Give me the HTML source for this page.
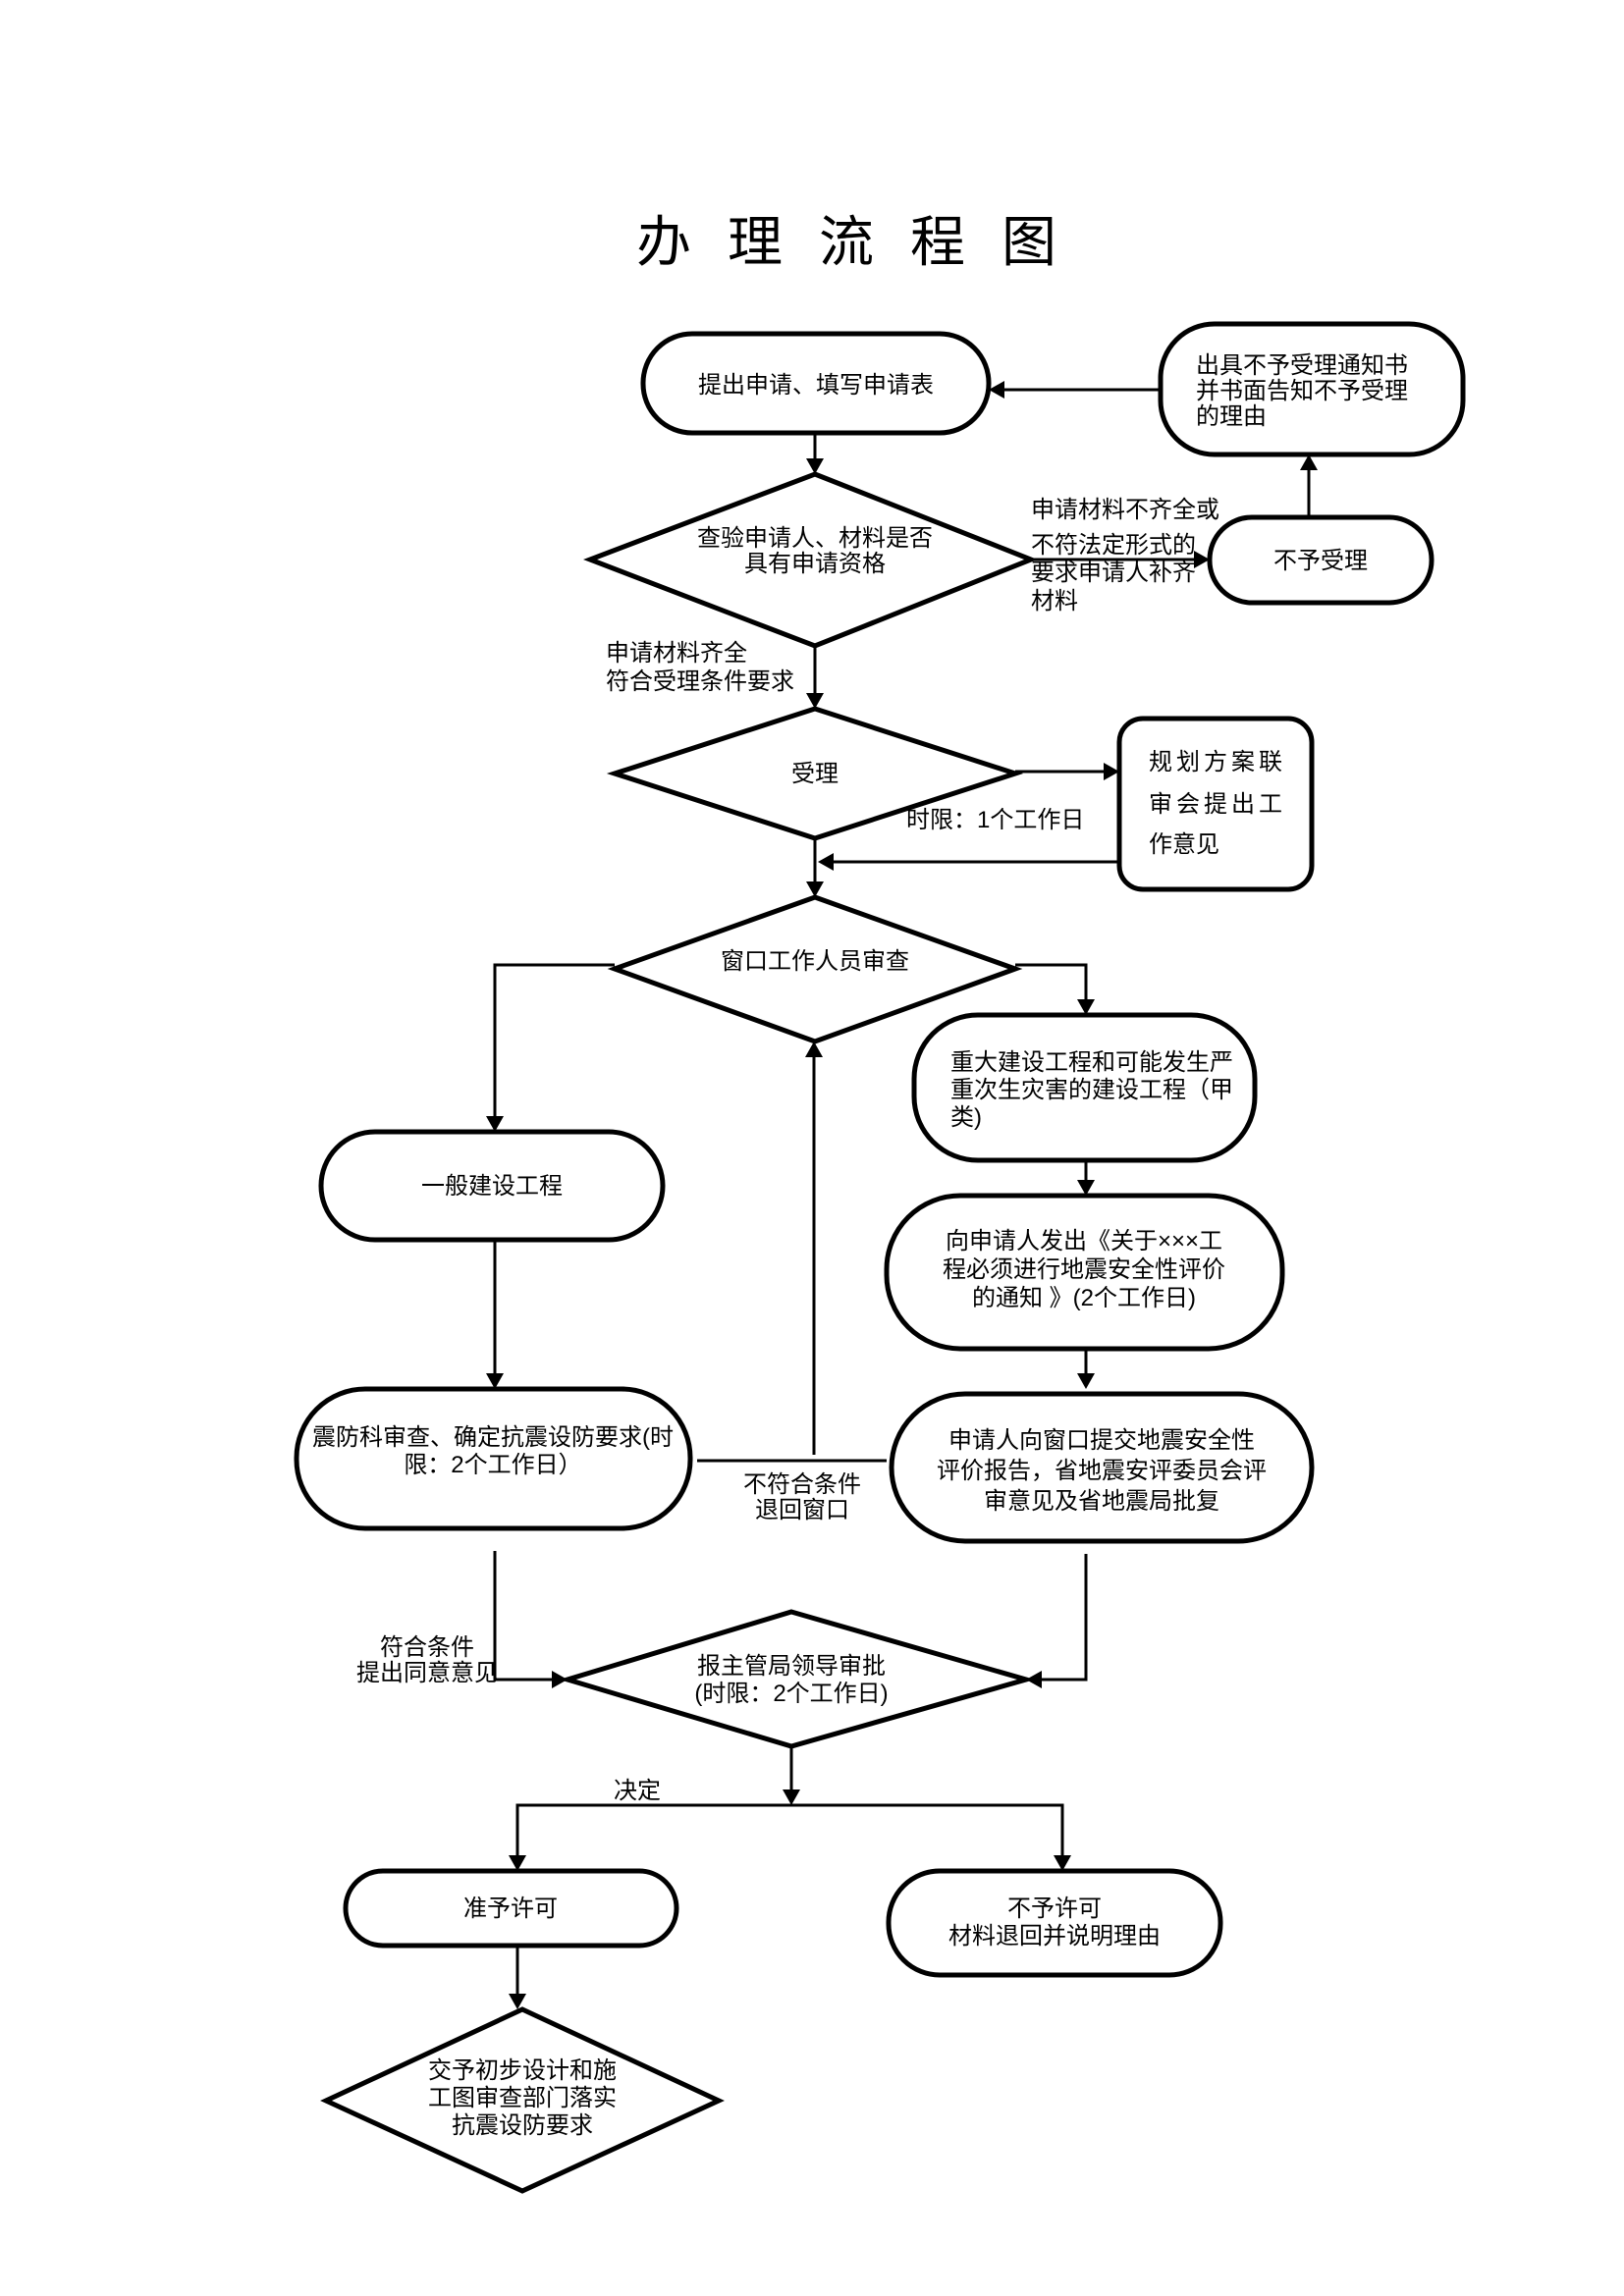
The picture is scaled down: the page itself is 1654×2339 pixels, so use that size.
<!DOCTYPE html>
<html><head><meta charset="utf-8"><style>
html,body{margin:0;padding:0;background:#fff;}
svg{display:block;}
text{font-family:"Liberation Sans","Noto Sans CJK SC",sans-serif;fill:#000;}
</style></head><body>
<svg width="1654" height="2339" viewBox="0 0 1654 2339" xmlns="http://www.w3.org/2000/svg">
<style>
.s{fill:none;stroke:#000;stroke-width:5}
.l{fill:none;stroke:#000;stroke-width:3}
.t{font-size:24px}
.c{text-anchor:middle}
</style>
<text x="648" y="266" font-size="56" letter-spacing="37">办理流程图</text>

<rect x="655" y="340" width="352" height="101" rx="50" class="s"/>
<text x="831" y="400" class="t c">提出申请、填写申请表</text>
<rect x="1182" y="330" width="308" height="133" rx="55" class="s"/>
<text x="1218" y="380" class="t">出具不予受理通知书</text>
<text x="1218" y="406" class="t">并书面告知不予受理</text>
<text x="1218" y="432" class="t">的理由</text>
<path d="M1182,397 L1012,397" class="l"/><path d="M1007,397 l16,-9 v18 z"/>
<polygon points="830,483 1050,570 830,658 601,570" class="s"/>
<text x="830" y="556" class="t c">查验申请人、材料是否</text>
<text x="830" y="582" class="t c">具有申请资格</text>
<path d="M830,441 V478" class="l"/><path d="M830,483 l-9,-16 h18 z"/>
<rect x="1232" y="527" width="226" height="87" rx="43" class="s"/>
<text x="1345" y="579" class="t c">不予受理</text>
<path d="M1050,570 H1226" class="l"/><path d="M1232,570 l-16,-9 v18 z"/>
<path d="M1333,527 V468" class="l"/><path d="M1333,463 l-9,16 h18 z"/>
<text x="1050" y="527" class="t">申请材料不齐全或</text>
<text x="1050" y="563" class="t">不符法定形式的</text>
<text x="1050" y="591" class="t">要求申请人补齐</text>
<text x="1050" y="620" class="t">材料</text>
<text x="617" y="673" class="t">申请材料齐全</text>
<text x="617" y="702" class="t">符合受理条件要求</text>
<path d="M830,658 V717" class="l"/><path d="M830,722 l-9,-16 h18 z"/>
<polygon points="830,722 1034,788 830,854 626,788" class="s"/>
<text x="830" y="796" class="t c">受理</text>
<path d="M1034,786 H1134" class="l"/><path d="M1140,786 l-16,-9 v18 z"/>
<rect x="1140" y="732" width="196" height="174" rx="24" class="s" stroke-width="4"/>
<text x="1170" y="784" class="t" letter-spacing="4">规划方案联</text>
<text x="1170" y="827" class="t" letter-spacing="4">审会提出工</text>
<text x="1170" y="868" class="t">作意见</text>
<text x="923" y="843" class="t">时限：1个工作日</text>
<path d="M1140,878 H838" class="l"/><path d="M833,878 l16,-9 v18 z"/>
<path d="M830,854 V909" class="l"/><path d="M830,914 l-9,-16 h18 z"/>
<polygon points="830,914 1034,987 830,1061 626,987" class="s"/>
<text x="830" y="987" class="t c">窗口工作人员审查</text>
<path d="M626,983 H504 V1148" class="l"/><path d="M504,1153 l-9,-16 h18 z"/>
<path d="M1034,983 H1106 V1029" class="l"/><path d="M1106,1034 l-9,-16 h18 z"/>
<rect x="327" y="1153" width="348" height="110" rx="55" class="s"/>
<text x="501" y="1216" class="t c">一般建设工程</text>
<path d="M504,1263 V1410" class="l"/><path d="M504,1415 l-9,-16 h18 z"/>
<rect x="302" y="1415" width="401" height="142" rx="70" class="s"/>
<text x="502" y="1472" class="t c">震防科审查、确定抗震设防要求(时</text>
<text x="502" y="1500" class="t c">限：2个工作日）</text>
<rect x="931" y="1034" width="347" height="148" rx="65" class="s"/>
<text x="968" y="1090" class="t">重大建设工程和可能发生严</text>
<text x="968" y="1118" class="t">重次生灾害的建设工程（甲</text>
<text x="968" y="1146" class="t">类)</text>
<path d="M1106,1182 V1213" class="l"/><path d="M1106,1218 l-9,-16 h18 z"/>
<rect x="903" y="1218" width="403" height="156" rx="75" class="s"/>
<text x="1104" y="1272" class="t c">向申请人发出《关于×××工</text>
<text x="1104" y="1301" class="t c">程必须进行地震安全性评价</text>
<text x="1104" y="1330" class="t c">的通知 》(2个工作日)</text>
<path d="M1106,1374 V1410" class="l"/><path d="M1106,1415 l-9,-16 h18 z"/>
<rect x="908" y="1420" width="428" height="150" rx="75" class="s"/>
<text x="1122" y="1475" class="t c">申请人向窗口提交地震安全性</text>
<text x="1122" y="1506" class="t c">评价报告，省地震安评委员会评</text>
<text x="1122" y="1537" class="t c">审意见及省地震局批复</text>
<path d="M710,1488 H903" class="l"/>
<path d="M829,1482 V1066" class="l"/><path d="M829,1061 l-9,16 h18 z"/>
<text x="817" y="1520" class="t c">不符合条件</text>
<text x="817" y="1546" class="t c">退回窗口</text>
<path d="M504,1580 V1711 H572" class="l"/><path d="M578,1711 l-16,-9 v18 z"/>
<path d="M1106,1583 V1711 H1050" class="l"/><path d="M1045,1711 l16,-9 v18 z"/>
<text x="435" y="1686" class="t c">符合条件</text>
<text x="435" y="1712" class="t c">提出同意意见</text>
<polygon points="806,1642 1045,1711 806,1779 578,1711" class="s"/>
<text x="806" y="1705" class="t c">报主管局领导审批</text>
<text x="806" y="1733" class="t c">(时限：2个工作日)</text>
<path d="M806,1779 V1834" class="l"/><path d="M806,1839 l-9,-16 h18 z"/>
<text x="649" y="1832" class="t c">决定</text>
<path d="M527,1901 V1839 H1082 V1901" class="l"/>
<path d="M527,1906 l-9,-16 h18 z"/><path d="M1082,1906 l-9,-16 h18 z"/>
<rect x="352" y="1906" width="337" height="76" rx="38" class="s"/>
<text x="520" y="1952" class="t c">准予许可</text>
<rect x="905" y="1906" width="338" height="106" rx="52" class="s"/>
<text x="1074" y="1952" class="t c">不予许可</text>
<text x="1074" y="1980" class="t c">材料退回并说明理由</text>
<path d="M527,1982 V2042" class="l"/><path d="M527,2047 l-9,-16 h18 z"/>
<polygon points="532,2047 732,2140 532,2232 332,2140" class="s"/>
<text x="532" y="2117" class="t c">交予初步设计和施</text>
<text x="532" y="2145" class="t c">工图审查部门落实</text>
<text x="532" y="2173" class="t c">抗震设防要求</text>
</svg>
</body></html>
